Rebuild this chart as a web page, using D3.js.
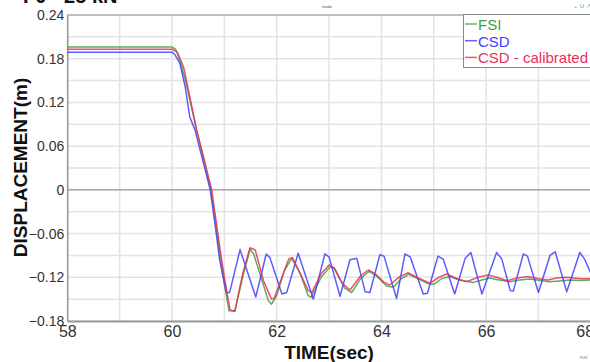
<!DOCTYPE html>
<html><head><meta charset="utf-8">
<script src="https://cdn.jsdelivr.net/npm/d3@7"></script>
<style>
body{margin:0;background:#fff;}
svg{display:block;font-family:Arial,"Liberation Sans",sans-serif;}
</style></head>
<body><svg id="c" width="590" height="362"></svg>
<script>
const seriesNames = ["FSI","CSD","CSD - calibrated"];
const seriesColors = ["#3f9f3f","#3f3fff","#e8305a"];
const xTicks = [58,60,62,64,66,68];
const yTicks = [-0.18,-0.12,-0.06,0,0.06,0.12,0.18,0.24];

const fsiT = [58,60.0,60.07,60.15,60.25,60.35,60.47,60.6,60.74,60.84,60.93,61.02,61.09,61.2,61.35,61.49,61.56,61.7,61.84,61.9,62.0,62.15,62.29,62.45,62.6,62.66,62.85,63.02,63.1,63.3,63.43,63.6,63.76,63.9,64.1,64.23,64.38,64.52,64.7,64.9,65.0,65.15,65.3,65.5,65.76,65.9,66.07,66.2,66.45,66.6,66.83,67.0,67.2,67.4,67.6,67.8,68];
const fsiV = [0.196,0.196,0.193,0.178,0.152,0.120,0.082,0.045,0.0,-0.046,-0.096,-0.1375,-0.166,-0.166,-0.12,-0.0816,-0.088,-0.12,-0.152,-0.157,-0.145,-0.11,-0.094,-0.115,-0.145,-0.1475,-0.12,-0.1055,-0.108,-0.135,-0.141,-0.122,-0.112,-0.118,-0.132,-0.1337,-0.122,-0.116,-0.122,-0.129,-0.1296,-0.122,-0.119,-0.124,-0.127,-0.124,-0.121,-0.123,-0.126,-0.124,-0.1223,-0.124,-0.126,-0.125,-0.1237,-0.1245,-0.1235];

const csdT = [58,60.0,60.06,60.15,60.25,60.34,60.44,60.6,60.73,60.82,60.91,61.0,61.04,61.1,61.3,61.6,61.8,61.87,62.1,62.19,62.41,62.70,62.92,63.0,63.21,63.40,63.53,63.69,63.78,63.97,64.05,64.29,64.45,64.55,64.8,64.88,65.08,65.18,65.4,65.6,65.71,65.92,66.2,66.3,66.46,66.52,66.71,66.79,67.0,67.22,67.32,67.54,67.79,67.88,68.0];
const csdV = [0.189,0.189,0.185,0.174,0.142,0.100,0.082,0.037,0.0,-0.046,-0.096,-0.128,-0.141,-0.141,-0.082,-0.147,-0.088,-0.093,-0.143,-0.141,-0.087,-0.150,-0.088,-0.092,-0.146,-0.096,-0.094,-0.140,-0.141,-0.089,-0.091,-0.149,-0.088,-0.092,-0.143,-0.142,-0.091,-0.095,-0.143,-0.094,-0.086,-0.143,-0.086,-0.095,-0.138,-0.139,-0.088,-0.091,-0.141,-0.090,-0.085,-0.140,-0.086,-0.095,-0.1145];

const calT = [58,60.0,60.1,60.22,60.34,60.47,60.6,60.76,60.82,60.92,61.01,61.11,61.2,61.35,61.49,61.59,61.75,61.9,61.95,62.1,62.23,62.3,62.45,62.6,62.67,62.85,63.0,63.1,63.25,63.4,63.6,63.75,63.88,64.05,64.16,64.35,64.51,64.7,64.93,65.1,65.25,65.45,65.63,65.85,66.04,66.2,66.4,66.6,66.8,67.0,67.18,67.35,67.54,67.8,68];
const calV = [0.193,0.193,0.189,0.169,0.128,0.082,0.0455,0.0,-0.032,-0.0825,-0.124,-0.165,-0.167,-0.115,-0.0794,-0.0825,-0.125,-0.15,-0.149,-0.12,-0.095,-0.093,-0.115,-0.138,-0.141,-0.115,-0.103,-0.107,-0.128,-0.1374,-0.118,-0.110,-0.115,-0.127,-0.1306,-0.119,-0.1137,-0.121,-0.128,-0.12,-0.1155,-0.122,-0.126,-0.12,-0.117,-0.12,-0.1247,-0.121,-0.119,-0.122,-0.1237,-0.121,-0.120,-0.122,-0.122];

const series = [
  {name:seriesNames[0], color:seriesColors[0], pts:fsiT.map((t,i)=>[t,fsiV[i]])},
  {name:seriesNames[1], color:seriesColors[1], pts:csdT.map((t,i)=>[t,csdV[i]])},
  {name:seriesNames[2], color:seriesColors[2], pts:calT.map((t,i)=>[t,calV[i]])}
];

const svg = d3.select("#c");
const L=67.3, R=590.8, T=15, B=321;
const x = d3.scaleLinear().domain([58,68]).range([L,R]);
const y = d3.scaleLinear().domain([-0.18,0.24]).range([B,T]);

// title (cut off at top)
svg.append("text").attr("x",23).attr("y",3).attr("font-size",20).attr("font-weight","bold").attr("fill","#111").text("F0 - 25 kN");
svg.append("text").attr("x",322).attr("y",8).attr("font-size",4).attr("fill","#555").text("mode");
svg.append("text").attr("x",573).attr("y",8).attr("font-size",6).attr("fill","#4aa0a0").text("⌄ U ↗");
svg.append("text").attr("x",580).attr("y",359).attr("font-size",3.5).attr("fill","#777").text("F0W");

// grid
const gx = d3.range(58,68.01,1), gy = d3.range(-0.18,0.2401,0.03);
svg.append("g").selectAll("line").data(gx).join("line")
  .attr("x1",d=>x(d)).attr("x2",d=>x(d)).attr("y1",T).attr("y2",B)
  .attr("stroke","#e3e3e3").attr("stroke-width",1.5);
svg.append("g").selectAll("line").data(gy).join("line")
  .attr("x1",L).attr("x2",R).attr("y1",d=>y(d)).attr("y2",d=>y(d))
  .attr("stroke","#e3e3e3").attr("stroke-width",1.5);
// zero line
svg.append("line").attr("x1",L).attr("x2",R).attr("y1",y(0)).attr("y2",y(0)).attr("stroke","#a8a8a8").attr("stroke-width",1.5);
// borders
svg.append("line").attr("x1",L).attr("x2",R).attr("y1",T).attr("y2",T).attr("stroke","#b0b0b0").attr("stroke-width",1.5);

// axes
const xAxis = d3.axisBottom(x).tickValues(xTicks).tickSize(0).tickFormat(d3.format("d"));
const gxA = svg.append("g").attr("transform",`translate(0,${B})`).call(xAxis);
gxA.select(".domain").attr("stroke","#999").attr("stroke-width",2);
gxA.selectAll("text").attr("font-size",16).attr("fill","#333").attr("dy",0).attr("y",16).attr("font-family","Arial, 'Liberation Sans', sans-serif");
gxA.selectAll(".tick").filter(d=>d===68).select("text").attr("text-anchor","start").attr("x",-15);

const yAxis = d3.axisLeft(y).tickValues(yTicks).tickSize(0).tickFormat(d=>d===0?"0":d3.format(".2f")(d));
const gyA = svg.append("g").attr("transform",`translate(${L},0)`).call(yAxis);
gyA.select(".domain").attr("stroke","#999").attr("stroke-width",1.5);
gyA.selectAll("text").attr("font-size",14).attr("fill","#333").attr("x",-3).attr("font-family","Arial, 'Liberation Sans', sans-serif");

// axis titles
svg.append("text").attr("transform","translate(27,167.5) rotate(-90)").attr("text-anchor","middle")
  .attr("font-size",19).attr("font-weight","bold").attr("fill","#111").text("DISPLACEMENT(m)");
svg.append("text").attr("x",329).attr("y",359).attr("text-anchor","middle")
  .attr("font-size",19).attr("font-weight","bold").attr("fill","#111").text("TIME(sec)");

// lines
svg.append("clipPath").attr("id","clip").append("rect").attr("x",L).attr("y",T).attr("width",R-L).attr("height",B-T);
const line = d3.line().x(d=>x(d[0])).y(d=>y(d[1]));
svg.append("g").attr("clip-path","url(#clip)").selectAll("path").data(series).join("path")
  .attr("d",d=>line(d.pts)).attr("fill","none").attr("stroke",d=>d.color)
  .attr("stroke-width",1.5).attr("stroke-opacity",0.85).attr("stroke-linejoin","round");

// legend
const lg = svg.append("g");
lg.append("rect").attr("x",463.5).attr("y",14.5).attr("width",140).attr("height",53)
  .attr("fill","#fff").attr("stroke","#888").attr("stroke-width",1);
series.forEach((s,i)=>{
  const cy = 24 + i*16.7;
  lg.append("line").attr("x1",465).attr("x2",477).attr("y1",cy).attr("y2",cy).attr("stroke",s.color).attr("stroke-width",1.5).attr("stroke-opacity",0.8);
  lg.append("text").attr("x",478).attr("y",cy+6).attr("font-size",15).attr("fill",s.color).text(s.name);
});
</script></body></html>
